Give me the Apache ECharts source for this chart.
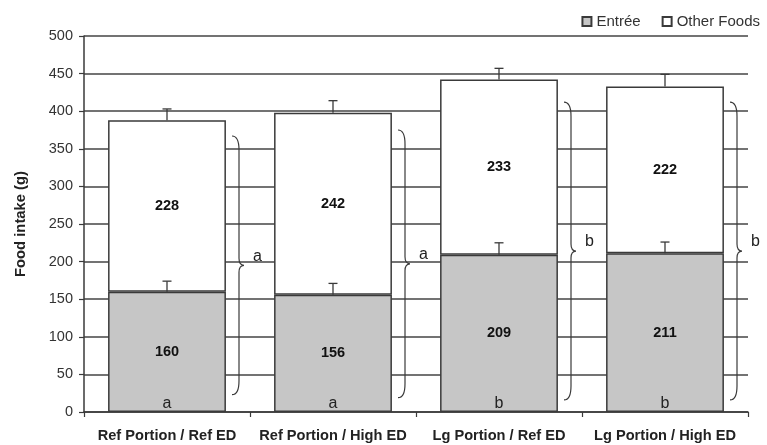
<!DOCTYPE html>
<html>
<head>
<meta charset="utf-8">
<script src="https://cdn.jsdelivr.net/npm/echarts@6/dist/echarts.min.js"></script>
<style>html,body{margin:0;padding:0;background:#fff}#c{width:767px;height:445px}</style>
</head>
<body>
<div id="c"></div>
<script>
var categories = ['Ref Portion / Ref ED', 'Ref Portion / High ED', 'Lg Portion / Ref ED', 'Lg Portion / High ED'];
var entree = [160, 156, 209, 211];
var otherFoods = [228, 242, 233, 222];
var entreeSD = [14, 15, 16, 15];
var otherSD = [15, 16, 15, 16];
var entreeLetters = ['a', 'a', 'b', 'b'];
var braceLow = [23, 19, 16, 16];
var braceHigh = [367, 375, 412, 412];
var braceLetters = ['a', 'a', 'b', 'b'];
var yTicks = { min: 0, max: 500, interval: 50 };

var FONT = "'Liberation Sans', Arial, Helvetica, sans-serif";
var LINE = '#3a3a3a';

var errData = [];
for (var i = 0; i < categories.length; i++) {
  errData.push([i, entree[i], entree[i] + entreeSD[i]]);
  var tot = entree[i] + otherFoods[i];
  errData.push([i, tot, tot + otherSD[i]]);
}
var braceData = categories.map(function (c, i) { return [i, braceLow[i], braceHigh[i]]; });
var letterData = categories.map(function (c, i) { return [i, 0]; });

function errRender(params, api) {
  var p0 = api.coord([api.value(0), api.value(1)]);
  var p1 = api.coord([api.value(0), api.value(2)]);
  var st = { stroke: LINE, lineWidth: 1.3 };
  return { type: 'group', children: [
    { type: 'line', shape: { x1: p0[0], y1: p0[1], x2: p1[0], y2: p1[1] }, style: st },
    { type: 'line', shape: { x1: p1[0] - 4.5, y1: p1[1], x2: p1[0] + 4.5, y2: p1[1] }, style: st }
  ]};
}

function braceRender(params, api) {
  var idx = api.value(0);
  var lo = api.coord([idx, api.value(1)]);
  var hi = api.coord([idx, api.value(2)]);
  var xL = lo[0] + 65, xM = xL + 7, xP = xL + 12;
  var yT = hi[1], yB = lo[1], yMid = (yT + yB) / 2;
  var d = 'M' + xL + ' ' + yT +
    ' Q' + xM + ' ' + yT + ' ' + xM + ' ' + (yT + 14) +
    ' L' + xM + ' ' + (yMid - 7) +
    ' Q' + xM + ' ' + yMid + ' ' + xP + ' ' + yMid +
    ' Q' + xM + ' ' + yMid + ' ' + xM + ' ' + (yMid + 7) +
    ' L' + xM + ' ' + (yB - 14) +
    ' Q' + xM + ' ' + yB + ' ' + xL + ' ' + yB;
  return { type: 'group', children: [
    { type: 'path', shape: { pathData: d }, style: { stroke: LINE, lineWidth: 1.2, fill: null } },
    { type: 'text', style: { text: braceLetters[idx], x: xL + 21, y: yMid - 9, align: 'left', verticalAlign: 'middle',
      font: '16px ' + FONT, fill: '#222' } }
  ]};
}

function letterRender(params, api) {
  var idx = api.value(0);
  var p = api.coord([idx, 0]);
  return { type: 'text', style: { text: entreeLetters[idx], x: p[0], y: p[1] - 8, align: 'center', verticalAlign: 'middle',
    font: '16px ' + FONT, fill: '#222' } };
}

var chart = echarts.init(document.getElementById('c'), null, { renderer: 'canvas' });
chart.setOption({
  animation: false,
  backgroundColor: '#fff',
  textStyle: { fontFamily: FONT },
  legend: {
    data: ['Entrée', 'Other Foods'],
    right: 2, top: 9,
    itemWidth: 9, itemHeight: 9, itemGap: 21,
    textStyle: { fontSize: 15, color: '#333', fontFamily: FONT },
    icon: 'rect'
  },
  grid: { left: 84, right: 19, top: 36, bottom: 33 },
  xAxis: {
    type: 'category',
    data: categories,
    axisLine: { lineStyle: { color: LINE, width: 1.5 } },
    axisTick: { show: true, length: 5, lineStyle: { color: LINE, width: 1.2 } },
    axisLabel: { fontSize: 14.6, fontWeight: 'bold', color: '#222', margin: 16, fontFamily: FONT, interval: 0 }
  },
  yAxis: {
    type: 'value',
    min: yTicks.min, max: yTicks.max, interval: yTicks.interval,
    name: 'Food intake (g)',
    nameLocation: 'middle',
    nameGap: 56,
    nameTextStyle: { fontSize: 14.8, fontWeight: 'bold', color: '#222', fontFamily: FONT },
    axisLine: { show: true, lineStyle: { color: LINE, width: 1.5 } },
    axisTick: { show: true, length: 5, lineStyle: { color: LINE, width: 1.2 } },
    axisLabel: { fontSize: 14.5, color: '#333', margin: 11, fontFamily: FONT },
    splitLine: { lineStyle: { color: '#444', width: 1.5 } }
  },
  series: [
    {
      name: 'Entrée', type: 'bar', stack: 'food', data: entree, barWidth: '71%',
      itemStyle: { color: '#c6c6c6', borderColor: LINE, borderWidth: 1.5 },
      label: { show: true, position: 'inside', fontSize: 14.5, fontWeight: 'bold', color: '#111', fontFamily: FONT }
    },
    {
      name: 'Other Foods', type: 'bar', stack: 'food', data: otherFoods, barWidth: '71%',
      itemStyle: { color: '#ffffff', borderColor: LINE, borderWidth: 1.5 },
      label: { show: true, position: 'inside', fontSize: 14.5, fontWeight: 'bold', color: '#111', fontFamily: FONT }
    },
    {
      name: 'err', type: 'custom', data: errData, renderItem: errRender, z: 5,
      encode: { x: 0, y: [1, 2] }, silent: true
    },
    {
      name: 'brace', type: 'custom', data: braceData, renderItem: braceRender, z: 5,
      encode: { x: 0, y: [1, 2] }, silent: true
    },
    {
      name: 'letters', type: 'custom', data: letterData, renderItem: letterRender, z: 6,
      encode: { x: 0, y: 1 }, silent: true
    }
  ]
});
</script>
</body>
</html>
